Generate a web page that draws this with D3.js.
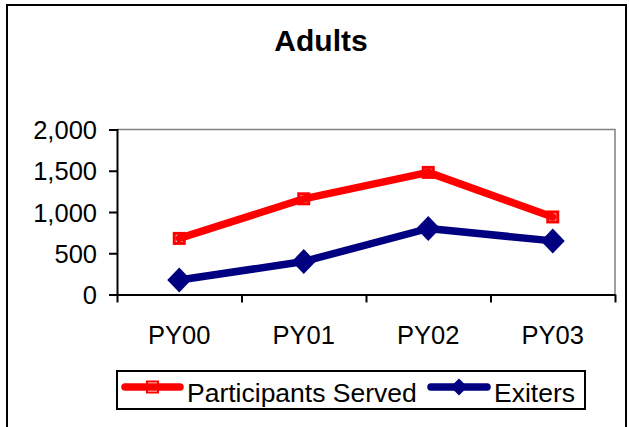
<!DOCTYPE html>
<html>
<head>
<meta charset="utf-8">
<script src="https://cdn.jsdelivr.net/npm/d3@7/dist/d3.min.js"></script>
<style>
  html, body { margin: 0; padding: 0; background: #fff; }
  svg { display: block; font-family: "Liberation Sans", Arial, sans-serif; }
</style>
</head>
<body>
<svg id="chart" width="629" height="427"></svg>
<script>
// Program years and yearly counts
const years = ["PY00", "PY01", "PY02", "PY03"];
const participantsServed = [680, 1160, 1480, 940];
const exiters = [175, 400, 800, 650];
const yTicks = [0, 500, 1000, 1500, 2000];
const seriesNames = ["Participants Served", "Exiters"];

const svg = d3.select("#chart");

// Outer chart frame
svg.append("rect")
  .attr("x", 7).attr("y", 5).attr("width", 619).attr("height", 440)
  .attr("fill", "#fff").attr("stroke", "#000").attr("stroke-width", 2);

// Title
svg.append("text")
  .attr("x", 321).attr("y", 51)
  .attr("text-anchor", "middle")
  .attr("font-size", 30).attr("font-weight", "bold")
  .text("Adults");

const plot = { left: 117, right: 615, top: 129.5, bottom: 294.5 };

const x = d3.scaleBand().domain(years).range([plot.left, plot.right]);
const xEdge = d3.scaleLinear().domain([0, years.length]).range([plot.left, plot.right]);
const y = d3.scaleLinear().domain([0, 2000]).range([plot.bottom, plot.top]);

// Plot-area border (top and right show in gray)
svg.append("path")
  .attr("d", `M${plot.left},${plot.top}H${plot.right}V${plot.bottom}`)
  .attr("fill", "none").attr("stroke", "#808080").attr("stroke-width", 1.5);

// Y axis
const yAxis = svg.append("g")
  .attr("transform", `translate(${plot.left},0)`)
  .call(d3.axisLeft(y).tickValues(yTicks).tickFormat(d3.format(",")).tickSize(8).tickPadding(12));
yAxis.select(".domain").attr("stroke", "#000").attr("stroke-width", 2);
yAxis.selectAll(".tick line").attr("stroke", "#000").attr("stroke-width", 2);
yAxis.selectAll(".tick text")
  .attr("font-size", 25.5).attr("fill", "#000")
  .attr("font-family", "Liberation Sans, Arial, sans-serif")
  .attr("dy", "0.36em");

// X axis: tick marks on category boundaries
const xAxis = svg.append("g")
  .attr("transform", `translate(0,${plot.bottom})`)
  .call(d3.axisBottom(xEdge).tickValues(d3.range(years.length + 1)).tickFormat("").tickSize(8).tickSizeOuter(0));
xAxis.select(".domain").attr("stroke", "#000").attr("stroke-width", 2);
xAxis.selectAll(".tick line").attr("stroke", "#000").attr("stroke-width", 2);

// Category labels at band centers
const xLabels = svg.append("g")
  .attr("transform", `translate(0,${plot.bottom})`)
  .call(d3.axisBottom(x).tickSize(0).tickPadding(31));
xLabels.select(".domain").remove();
xLabels.selectAll(".tick text")
  .attr("font-size", 25.5).attr("fill", "#000")
  .attr("font-family", "Liberation Sans, Arial, sans-serif");

const cx = d => x(d) + x.bandwidth() / 2;
const line = d3.line().x(d => cx(d.year)).y(d => y(d.value));

const partData = years.map((yr, i) => ({ year: yr, value: participantsServed[i] }));
const exitData = years.map((yr, i) => ({ year: yr, value: exiters[i] }));

// Participants Served: hollow squares under the thick red line
svg.append("g").selectAll("rect")
  .data(partData).join("rect")
  .attr("x", d => cx(d.year) - 5).attr("y", d => y(d.value) - 5)
  .attr("width", 10).attr("height", 10)
  .attr("fill", "#fff").attr("stroke", "#ff0000").attr("stroke-width", 3);

svg.append("path")
  .datum(partData)
  .attr("d", line)
  .attr("fill", "none").attr("stroke", "#ff0000").attr("stroke-width", 7.5)
  .attr("stroke-linejoin", "round").attr("stroke-linecap", "round");

// Exiters: navy line with diamonds
svg.append("path")
  .datum(exitData)
  .attr("d", line)
  .attr("fill", "none").attr("stroke", "#000080").attr("stroke-width", 7.5)
  .attr("stroke-linejoin", "round");

const diamond = (cxv, cyv, hw, hh) => `M${cxv},${cyv - hh}L${cxv + hw},${cyv}L${cxv},${cyv + hh}L${cxv - hw},${cyv}Z`;
svg.append("g").selectAll("path")
  .data(exitData).join("path")
  .attr("d", d => diamond(cx(d.year), y(d.value), 12, 12.5))
  .attr("fill", "#000080");

// Legend
const legend = svg.append("g");
legend.append("rect")
  .attr("x", 117).attr("y", 371).attr("width", 468).attr("height", 38)
  .attr("fill", "#fff").attr("stroke", "#000").attr("stroke-width", 2);

const ly = 387;
// Participants Served key
legend.append("rect")
  .attr("x", 147).attr("y", ly - 5.5).attr("width", 11).attr("height", 11)
  .attr("fill", "#fff").attr("stroke", "#ff0000").attr("stroke-width", 2);
legend.append("line")
  .attr("x1", 125).attr("x2", 180).attr("y1", ly).attr("y2", ly)
  .attr("stroke", "#ff0000").attr("stroke-width", 7.5).attr("stroke-linecap", "round");
legend.append("text")
  .attr("x", 187).attr("y", 402)
  .attr("font-size", 26.5).text(seriesNames[0]);

// Exiters key
legend.append("line")
  .attr("x1", 431).attr("x2", 487).attr("y1", ly).attr("y2", ly)
  .attr("stroke", "#000080").attr("stroke-width", 7.5).attr("stroke-linecap", "round");
legend.append("path")
  .attr("d", diamond(459, ly, 8.5, 8.5))
  .attr("fill", "#000080");
legend.append("text")
  .attr("x", 494).attr("y", 402)
  .attr("font-size", 26.5).text(seriesNames[1]);
</script>
</body>
</html>
